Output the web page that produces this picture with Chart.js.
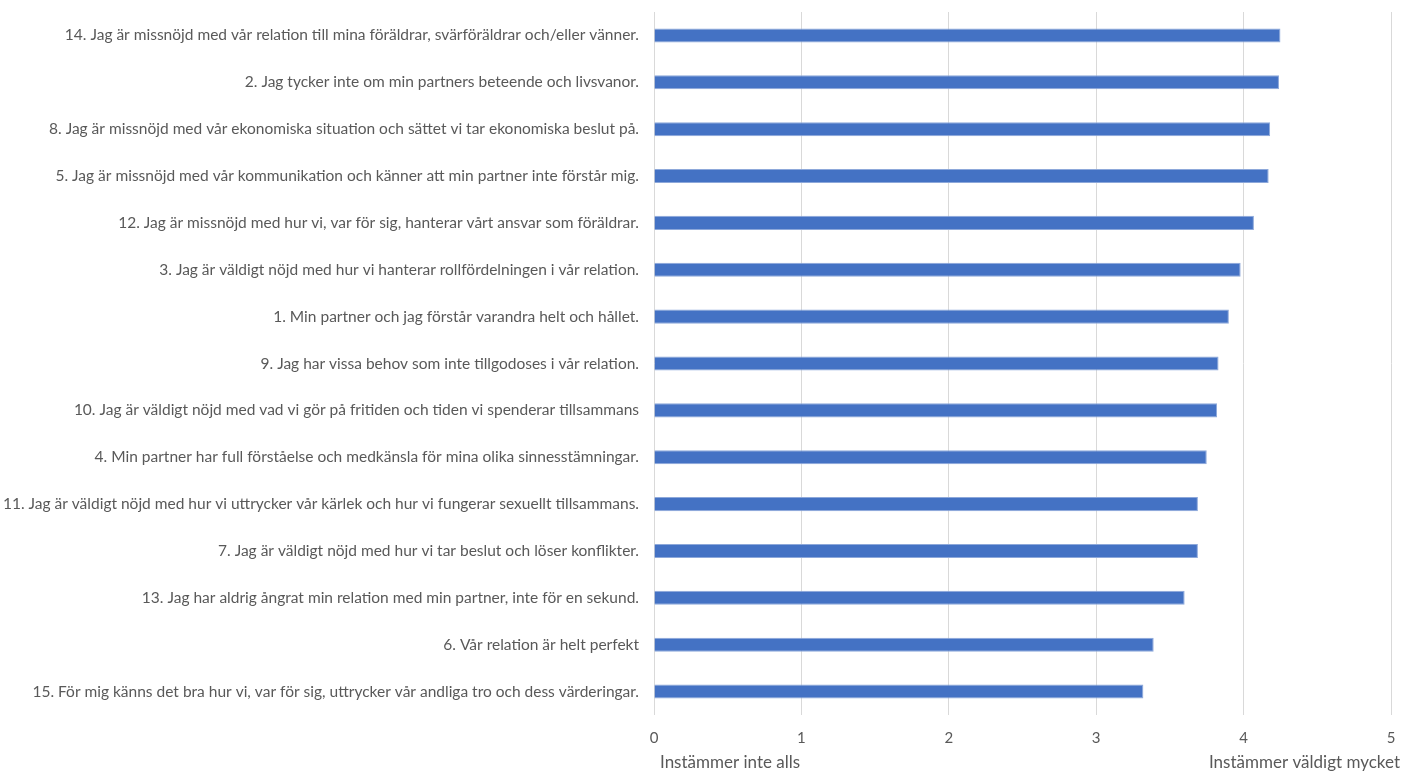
<!DOCTYPE html>
<html>
<head>
<meta charset="utf-8">
<script src="https://cdn.jsdelivr.net/npm/chart.js@4.4.1/dist/chart.umd.min.js"></script>
<style>
  html, body { margin: 0; padding: 0; background: #fff; }
  #wrap { width: 1402px; height: 771px; position: relative; }
</style>
</head>
<body>
<div id="wrap"><canvas id="relChart"></canvas></div>
<script>
// Påståenden, sorterade efter medelvärde
const statements = [
  '14. Jag är missnöjd med vår relation till mina föräldrar, svärföräldrar och/eller vänner.',
  '2. Jag tycker inte om min partners beteende och livsvanor.',
  '8. Jag är missnöjd med vår ekonomiska situation och sättet vi tar ekonomiska beslut på.',
  '5. Jag är missnöjd med vår kommunikation och känner att min partner inte förstår mig.',
  '12. Jag är missnöjd med hur vi, var för sig, hanterar vårt ansvar som föräldrar.',
  '3. Jag är väldigt nöjd med hur vi hanterar rollfördelningen i vår relation.',
  '1. Min partner och jag förstår varandra helt och hållet.',
  '9. Jag har vissa behov som inte tillgodoses i vår relation.',
  '10. Jag är väldigt nöjd med vad vi gör på fritiden och tiden vi spenderar tillsammans',
  '4. Min partner har full förståelse och medkänsla för mina olika sinnesstämningar.',
  '11. Jag är väldigt nöjd med hur vi uttrycker vår kärlek och hur vi fungerar sexuellt tillsammans.',
  '7. Jag är väldigt nöjd med hur vi tar beslut och löser konflikter.',
  '13. Jag har aldrig ångrat min relation med min partner, inte för en sekund.',
  '6. Vår relation är helt perfekt',
  '15. För mig känns det bra hur vi, var för sig, uttrycker vår andliga tro och dess värderingar.'
];
const meanScores = [4.25, 4.24, 4.18, 4.17, 4.07, 3.98, 3.90, 3.83, 3.82, 3.75, 3.69, 3.69, 3.60, 3.39, 3.32];
const scaleMin = 0;
const scaleMax = 5;
const scaleEnds = ['Instämmer inte alls', 'Instämmer väldigt mycket'];

const FONT = 'Lato, "Open Sans", sans-serif';
const GREY = '#595959';

// Texterna under skalans ändpunkter
const endLabels = {
  id: 'endLabels',
  afterDraw(chart) {
    const { ctx, scales: { x } } = chart;
    ctx.save();
    ctx.fillStyle = GREY;
    ctx.font = '17px ' + FONT;
    ctx.textBaseline = 'middle';
    ctx.textAlign = 'left';
    ctx.fillText(scaleEnds[0], x.getPixelForValue(scaleMin) + 6, 763);
    ctx.textAlign = 'right';
    ctx.fillText(scaleEnds[1], chart.width - 2, 763);
    ctx.restore();
  }
};

new Chart(document.getElementById('relChart'), {
  type: 'bar',
  data: {
    labels: statements,
    datasets: [{
      data: meanScores,
      backgroundColor: '#4472C4',
      borderColor: '#8DA8DA',
      borderWidth: 1,
      borderSkipped: 'start',
      barPercentage: 0.3,
      categoryPercentage: 1
    }]
  },
  options: {
    indexAxis: 'y',
    responsive: true,
    maintainAspectRatio: false,
    animation: false,
    layout: { padding: { top: 12, right: 11, left: 0, bottom: 0 } },
    plugins: {
      legend: { display: false },
      tooltip: { enabled: false }
    },
    scales: {
      x: {
        min: scaleMin,
        max: scaleMax,
        ticks: {
          stepSize: 1,
          color: GREY,
          padding: 14,
          font: { family: FONT, size: 15 }
        },
        grid: { color: '#d9d9d9', lineWidth: 1, drawTicks: false },
        border: { display: false },
        afterFit: scale => {
          scale.height = 56;
          scale.paddingRight = 0;
        }
      },
      y: {
        ticks: {
          color: GREY,
          padding: 15,
          autoSkip: false,
          font: { family: FONT, size: 15.5 }
        },
        grid: { display: false, drawTicks: false },
        border: { display: false },
        afterFit: scale => {
          scale.width = 654;
          scale.paddingTop = 0;
          scale.paddingBottom = 0;
        }
      }
    }
  },
  plugins: [endLabels]
});
</script>
</body>
</html>
